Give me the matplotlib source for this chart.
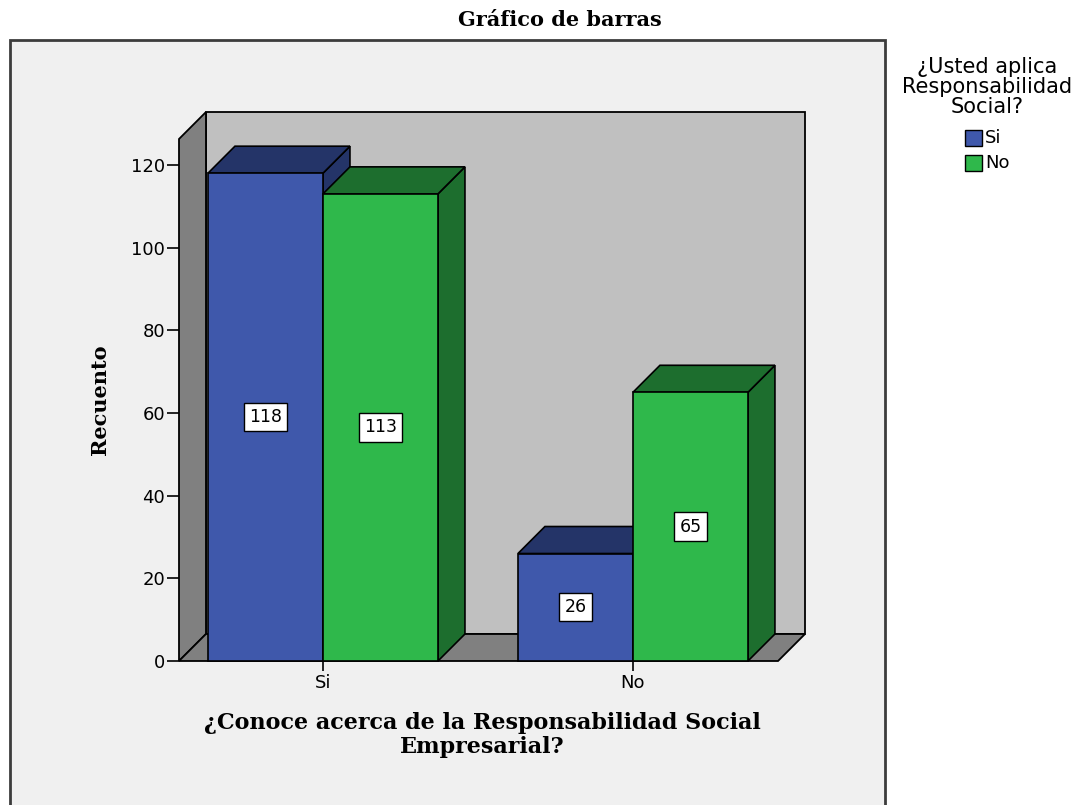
import matplotlib
matplotlib.use("Agg")
import matplotlib.pyplot as plt
from matplotlib.patches import Polygon, Rectangle

# data
categories = ["Si", "No"]
series = ["Si", "No"]
si_counts = [118, 26]
no_counts = [113, 65]
y_ticks = [0, 20, 40, 60, 80, 100, 120]

front_colors = ["#3f58ab", "#2fb84b"]
dark_colors = ["#243468", "#1d6e2e"]

fig = plt.figure(figsize=(10.9, 8.05), dpi=100)
fig.patch.set_facecolor("white")

# outer chart frame
frame = Rectangle((10 / 1090, -0.05), 875 / 1090, 1 - 40 / 805 + 0.05,
                  transform=fig.transFigure, facecolor="#f0f0f0",
                  edgecolor="#3c3c3c", linewidth=2, zorder=-10)
fig.patches.append(frame)

ax = fig.add_axes([179 / 1090, 144 / 805, 626 / 1090, 549 / 805])
ax.set_facecolor("none")
x0, x1 = -0.4645, 1.555
ytop = 132.8
ax.set_xlim(x0, x1)
ax.set_ylim(0, ytop)
dx, dy = 0.087, 6.53
w = 0.371

# walls and floor
ax.add_patch(Polygon([(x0 + dx, dy), (x1, dy), (x1, ytop), (x0 + dx, ytop)],
                     closed=True, facecolor="#c0c0c0", edgecolor="black", lw=1.3, clip_on=False))
ax.add_patch(Polygon([(x0, 0), (x0, ytop - dy), (x0 + dx, ytop), (x0 + dx, dy)],
                     closed=True, facecolor="#808080", edgecolor="black", lw=1.3, clip_on=False))
ax.add_patch(Polygon([(x0, 0), (x1 - dx, 0), (x1, dy), (x0 + dx, dy)],
                     closed=True, facecolor="#808080", edgecolor="black", lw=1.3, clip_on=False))


def bar3d(left, h, front, dark):
    right = left + w
    ax.add_patch(Polygon([(right, 0), (right + dx, dy), (right + dx, h + dy), (right, h)],
                         closed=True, facecolor=dark, edgecolor="black", lw=1.2, clip_on=False))
    ax.add_patch(Polygon([(left, h), (left + dx, h + dy), (right + dx, h + dy), (right, h)],
                         closed=True, facecolor=dark, edgecolor="black", lw=1.2, clip_on=False))
    ax.add_patch(Rectangle((left, 0), w, h, facecolor=front, edgecolor="black", lw=1.2, clip_on=False))
    ax.text(left + w / 2, h / 2, str(h), ha="center", va="center", fontsize=12.5,
            bbox=dict(boxstyle="square,pad=0.3", facecolor="white", edgecolor="black", lw=1))


for i, cat in enumerate(categories):
    bar3d(i - w, si_counts[i], front_colors[0], dark_colors[0])
    bar3d(i, no_counts[i], front_colors[1], dark_colors[1])

for s in ["top", "right", "bottom", "left"]:
    ax.spines[s].set_visible(False)
ax.set_yticks(y_ticks)
ax.set_xticks(range(len(categories)))
ax.set_xticklabels(categories)
ax.tick_params(axis="y", length=9, width=1.2, labelsize=13, pad=1)
ax.tick_params(axis="x", length=7, width=1.2, labelsize=13, pad=2)

fig.text(560 / 1090, 1 - 20 / 805, "Gráfico de barras", ha="center", va="center",
         family="DejaVu Serif", fontweight="bold", fontsize=15)
fig.text(100 / 1090, 1 - 400 / 805, "Recuento", ha="center", va="center", rotation=90,
         family="DejaVu Serif", fontweight="bold", fontsize=15)
fig.text(482 / 1090, 1 - 735 / 805, "¿Conoce acerca de la Responsabilidad Social\nEmpresarial?",
         ha="center", va="center", family="DejaVu Serif", fontweight="bold", fontsize=16,
         linespacing=1.15)

# legend
fig.text(987 / 1090, 1 - 87 / 805, "¿Usted aplica\nResponsabilidad\nSocial?", ha="center",
         va="center", fontsize=15, linespacing=0.98)
for k, name in enumerate(series):
    yk = 1 - (146 + 25 * k) / 805
    fig.patches.append(Rectangle((965 / 1090, yk), 17 / 1090, 16 / 805, transform=fig.transFigure,
                                 facecolor=front_colors[k], edgecolor="black", lw=1))
    fig.text(985 / 1090, yk + 8 / 805, name, va="center", ha="left", fontsize=13)

fig.savefig("out.png", dpi=100)
